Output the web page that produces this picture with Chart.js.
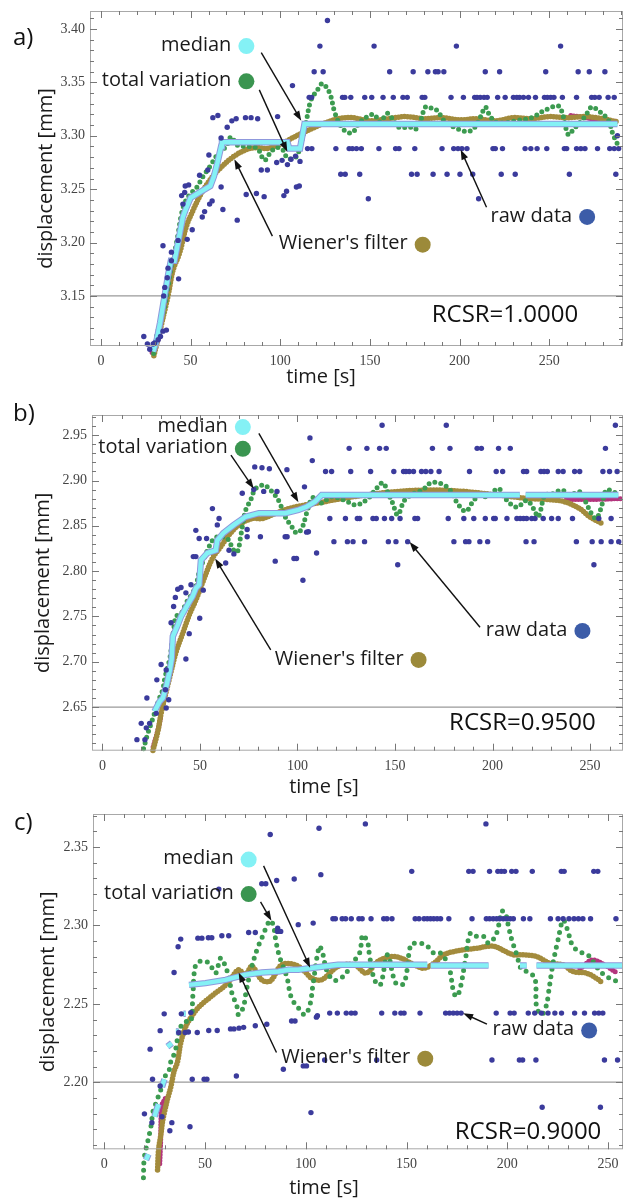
<!DOCTYPE html>
<html>
<head>
<meta charset="utf-8">
<script src="https://cdn.jsdelivr.net/npm/chart.js@4.4.1/dist/chart.umd.min.js"></script>
<style>
  body { margin: 0; background: #fff; }
  #wrap { position: relative; width: 627px; height: 1201px; }
  canvas { position: absolute; left: 0; }
</style>
</head>
<body>
<div id="wrap">
  <canvas id="chartA" width="627" height="395" style="top:0px"></canvas>
  <canvas id="chartB" width="627" height="405" style="top:395px"></canvas>
  <canvas id="chartC" width="627" height="401" style="top:800px"></canvas>
</div>
<script>
// ---------- panel a) RCSR = 1.0000 ----------
// raw data sits on quantised levels, so keep one list of times per level
const rawLevelsA = [3.408, 3.384, 3.360, 3.336, 3.288, 3.264, 3.241];
const rawRowsA = [
  [126.3],
  [122.1, 152.3, 198.2, 256.3],
  [118.9, 123.9, 161.0, 174.1, 182.3, 186.5, 188.0, 191.2, 214.3, 222.3, 248.0, 266.1, 272.3, 281.0],
  [116.1, 117.5, 134.7, 136.0, 139.3, 147.1, 151.0, 157.3, 163.0, 168.4, 170.8, 179.1, 180.6, 195.2, 202.1, 208.4, 209.7, 211.5, 213.6, 215.4, 221.2, 225.4, 230.0, 231.9, 233.4, 235.6, 238.4, 242.3, 247.3, 248.9, 250.8, 252.6, 257.3, 265.2, 273.6, 275.4, 277.8, 282.8, 286.2],
  [115.2, 117.6, 131.0, 138.4, 140.2, 142.5, 145.2, 155.0, 164.3, 166.2, 175.0, 190.2, 196.7, 199.1, 201.3, 204.1, 218.6, 219.9, 223.9, 236.5, 239.7, 243.2, 248.6, 258.4, 259.7, 265.2, 267.6, 269.9, 276.9, 283.7, 286.2, 288.7],
  [133.7, 136.2, 144.3, 173.2, 176.3, 185.2, 193.0, 200.2, 207.3, 223.2, 231.0, 261.2, 287.1],
  [149.1, 210.6]
];
const rawLooseA = [
  [23.9, 3.112], [25.9, 3.105], [27.2, 3.100], [29.1, 3.105], [30.0, 3.106], [31.9, 3.109], [33.2, 3.112], [34.6, 3.117],
  [36.5, 3.118], [35.0, 3.150], [35.6, 3.158], [37.0, 3.167], [37.4, 3.176], [39.3, 3.183], [39.3, 3.191], [34.6, 3.197],
  [43.3, 3.166], [43.0, 3.202], [48.1, 3.203], [50.9, 3.212], [45.7, 3.236], [45.0, 3.244], [46.7, 3.247], [47.0, 3.253],
  [48.9, 3.254], [56.5, 3.224], [57.8, 3.229], [60.6, 3.236], [62.0, 3.239], [55.0, 3.263], [59.6, 3.268], [60.2, 3.282],
  [62.4, 3.317], [65.2, 3.319], [67.0, 3.298], [70.4, 3.308], [73.0, 3.314], [75.4, 3.316], [80.6, 3.317], [83.7, 3.317],
  [87.4, 3.316], [98.5, 3.318], [106.8, 3.347], [67.0, 3.252], [68.0, 3.231], [76.0, 3.221], [81.0, 3.245], [86.7, 3.246],
  [91.0, 3.243], [102.0, 3.244], [103.5, 3.248], [109.0, 3.252], [110.6, 3.253], [89.4, 3.268], [92.8, 3.268], [98.0, 3.275],
  [101.0, 3.277], [104.0, 3.273], [106.0, 3.278], [108.5, 3.281], [111.0, 3.276], [288.0, 3.300]
];
const wienerA = [
  [29.5, 3.094], [33.0, 3.118], [37.4, 3.150], [40.2, 3.174], [44.0, 3.191], [47.6, 3.215], [51.3, 3.230], [55.9, 3.246],
  [61.0, 3.259], [66.1, 3.269], [73.5, 3.280], [81.0, 3.287], [87.0, 3.289], [92.0, 3.288], [97.0, 3.290], [101.3, 3.293],
  [106.8, 3.298], [111.5, 3.302], [118.0, 3.307], [125.0, 3.312], [132.0, 3.316], [140.0, 3.317], [150.0, 3.314], [160.0, 3.316],
  [170.0, 3.318], [180.0, 3.316], [190.0, 3.317], [200.0, 3.315], [210.0, 3.316], [220.0, 3.314], [230.0, 3.317], [240.0, 3.316],
  [250.0, 3.318], [260.0, 3.317], [270.0, 3.318], [280.0, 3.316], [288.0, 3.313]
];
const tvA = [
  [29.4, 3.096], [31.0, 3.112], [32.8, 3.123], [34.3, 3.132], [35.6, 3.141], [37.4, 3.158], [39.3, 3.178], [41.1, 3.191],
  [43.0, 3.208], [44.8, 3.226], [46.7, 3.237], [50.0, 3.246], [53.1, 3.251], [57.0, 3.262], [61.0, 3.272], [65.2, 3.283],
  [69.8, 3.290], [72.6, 3.299], [76.3, 3.291], [82.8, 3.290], [87.4, 3.288], [91.1, 3.277], [94.8, 3.285], [98.0, 3.289],
  [101.3, 3.287], [104.1, 3.279], [108.7, 3.280], [111.5, 3.293], [114.3, 3.312], [117.0, 3.333], [120.7, 3.343], [123.5, 3.349],
  [126.3, 3.344], [128.2, 3.337], [130.0, 3.324], [132.8, 3.312], [136.5, 3.304], [140.2, 3.303], [144.0, 3.312], [149.5, 3.319],
  [152.5, 3.320], [155.5, 3.313], [159.7, 3.321], [162.5, 3.316], [166.2, 3.308], [172.6, 3.308], [175.4, 3.306], [178.0, 3.313],
  [181.0, 3.327], [184.0, 3.326], [186.5, 3.325], [189.0, 3.320], [192.0, 3.313], [199.5, 3.306], [205.0, 3.304], [208.5, 3.308],
  [212.0, 3.319], [214.3, 3.327], [216.5, 3.320], [219.9, 3.313], [225.0, 3.312], [231.0, 3.314], [240.2, 3.317], [247.6, 3.324],
  [255.0, 3.328], [257.5, 3.320], [260.6, 3.301], [263.5, 3.306], [269.9, 3.318], [273.6, 3.327], [277.0, 3.324], [282.8, 3.315],
  [285.6, 3.301], [288.4, 3.291]
];
const medianA = [
  [29.1, 3.098], [31.0, 3.108], [33.0, 3.125], [35.5, 3.150], [37.5, 3.170], [39.0, 3.183], [41.0, 3.183], [43.0, 3.200],
  [45.7, 3.224], [47.0, 3.230], [50.0, 3.242], [55.0, 3.247], [61.0, 3.253], [63.0, 3.262], [65.0, 3.275], [67.0, 3.290],
  [67.5, 3.294], [104.0, 3.294], [105.0, 3.288], [111.0, 3.288], [113.5, 3.311], [288.0, 3.311]
];
const magentaA = [[28.5, 3.097], [31.0, 3.105], [33.0, 3.115], null, [262.0, 3.319], [270.0, 3.317], [276.0, 3.315], [282.0, 3.313], [288.0, 3.314]];

// ---------- panel b) RCSR = 0.9500 ----------
const rawLevelsB = [2.961, 2.9355, 2.910, 2.858, 2.8325, 2.807];
const rawRowsB = [
  [143.4, 176.3, 263.0],
  [126.5, 135.6, 142.1, 145.5, 169.2, 178.2, 192.1, 194.3, 203.1, 209.1, 257.9],
  [114.4, 117.5, 127.3, 137.5, 149.4, 154.4, 155.6, 157.3, 159.5, 163.6, 165.8, 168.4, 172.6, 188.2, 201.9, 205.2, 215.9, 217.5, 224.8, 226.4, 228.1, 233.7, 236.2, 242.1, 244.7, 256.6, 260.0, 263.9],
  [116.6, 124.6, 130.7, 131.9, 138.7, 140.4, 144.6, 148.3, 152.6, 160.2, 161.6, 177.3, 185.3, 190.4, 196.3, 200.6, 201.4, 207.4, 212.5, 214.2, 215.9, 217.5, 220.1, 221.8, 226.0, 230.3, 233.7, 241.0, 254.5, 260.8],
  [118.7, 125.6, 128.5, 134.4, 146.6, 150.5, 156.5, 180.2, 186.2, 187.9, 193.5, 197.5, 217.2, 221.3, 243.0, 251.1, 255.7, 260.8, 264.7],
  [151.4, 252.0]
];
const rawLooseB = [
  [17.7, 2.614], [21.8, 2.614], [19.9, 2.632], [24.2, 2.632], [22.5, 2.627], [27.6, 2.643], [22.8, 2.660], [32.7, 2.649],
  [34.0, 2.658], [27.9, 2.680], [32.3, 2.669], [30.1, 2.697], [32.7, 2.691], [42.8, 2.703], [35.2, 2.743], [44.5, 2.731],
  [49.9, 2.748], [36.5, 2.761], [37.4, 2.771], [42.8, 2.776], [38.6, 2.780], [40.3, 2.782], [45.4, 2.785], [51.7, 2.779],
  [46.6, 2.816], [47.9, 2.816], [47.9, 2.845], [49.6, 2.836], [53.4, 2.836], [58.9, 2.851], [59.8, 2.858], [56.4, 2.869],
  [63.2, 2.809], [64.9, 2.823], [67.4, 2.819], [74.2, 2.838], [74.2, 2.846], [81.0, 2.838], [71.7, 2.886], [77.6, 2.890],
  [82.7, 2.888], [89.5, 2.888], [78.1, 2.915], [81.8, 2.914], [85.6, 2.913], [94.6, 2.912], [93.7, 2.838], [94.7, 2.838],
  [88.6, 2.811], [98.2, 2.814], [99.5, 2.814], [102.8, 2.790], [104.7, 2.843], [105.6, 2.8435], [103.6, 2.893], [106.4, 2.947],
  [107.6, 2.922], [109.8, 2.820]
];
const wienerB = [
  [25.9, 2.602], [28.4, 2.623], [30.1, 2.643], [32.7, 2.667], [35.2, 2.689], [37.8, 2.711], [41.1, 2.731], [44.5, 2.7515],
  [47.9, 2.768], [51.3, 2.787], [56.4, 2.814], [60.7, 2.827], [64.9, 2.840], [70.0, 2.851], [76.7, 2.858], [81.8, 2.858],
  [86.9, 2.862], [95.4, 2.869], [103.9, 2.873], [110.0, 2.875], [120.0, 2.879], [135.0, 2.884], [151.4, 2.888], [168.4, 2.8895],
  [185.3, 2.888], [202.3, 2.884], [219.2, 2.880], [228.0, 2.879], [236.2, 2.877], [244.7, 2.869], [249.8, 2.860], [255.7, 2.853]
];
const tvB = [
  [21.1, 2.604], [23.0, 2.619], [25.0, 2.632], [27.0, 2.645], [28.9, 2.658], [30.9, 2.669], [32.1, 2.683], [34.4, 2.702],
  [35.2, 2.713], [36.5, 2.735], [37.8, 2.750], [40.3, 2.753], [43.0, 2.765], [46.2, 2.776], [47.9, 2.783], [49.6, 2.799],
  [52.0, 2.813], [54.7, 2.827], [57.3, 2.836], [60.7, 2.838], [64.9, 2.834], [66.6, 2.825], [69.1, 2.821], [71.0, 2.840],
  [73.4, 2.867], [75.9, 2.878], [78.5, 2.891], [82.7, 2.895], [86.1, 2.8895], [90.3, 2.878], [93.7, 2.860], [97.1, 2.849],
  [99.6, 2.842], [102.2, 2.847], [104.7, 2.864], [107.3, 2.880], [109.8, 2.882], [112.0, 2.875], [117.5, 2.882], [124.3, 2.878],
  [130.2, 2.873], [136.1, 2.880], [140.4, 2.891], [143.8, 2.8975], [146.3, 2.887], [148.8, 2.875], [151.4, 2.862], [154.8, 2.878],
  [159.0, 2.885], [164.1, 2.8895], [168.4, 2.8975], [173.4, 2.8966], [177.7, 2.891], [181.1, 2.878], [186.2, 2.866], [190.4, 2.878],
  [193.8, 2.884], [197.2, 2.882], [203.1, 2.891], [207.4, 2.878], [212.5, 2.8705], [217.5, 2.878], [221.0, 2.869], [223.5, 2.860],
  [226.9, 2.885], [229.4, 2.884], [235.4, 2.8895], [239.6, 2.884], [244.7, 2.8876], [248.1, 2.875], [250.6, 2.864], [253.2, 2.858],
  [255.7, 2.870], [258.3, 2.8895], [261.7, 2.8876], [265.0, 2.884]
];
const medianB = [
  [26.7, 2.645], [29.3, 2.656], [31.0, 2.660], [33.0, 2.675], [34.5, 2.690], [35.5, 2.703], [36.1, 2.728], [38.6, 2.7405],
  [40.3, 2.750], [43.7, 2.763], [46.2, 2.772], [47.9, 2.781], [49.6, 2.785], [50.5, 2.812], [53.8, 2.820], [58.1, 2.823],
  [58.9, 2.834], [62.0, 2.842], [67.4, 2.851], [73.4, 2.860], [80.2, 2.864], [93.7, 2.864], [100.5, 2.8675], [104.7, 2.871],
  [109.0, 2.8766], [112.4, 2.884], [214.0, 2.884], null, [217.0, 2.884], [264.5, 2.884]
];
const magentaB = [[26.0, 2.606], [28.5, 2.625], [30.0, 2.640], null, [237.9, 2.879], [250.0, 2.879], [265.9, 2.880]];

// ---------- panel c) RCSR = 0.9000 ----------
const rawLevelsC = [2.3648, 2.3345, 2.3043, 2.2441, 2.2142, 2.184];
const rawRowsC = [
  [129.6, 189.4],
  [152.6, 180.9, 183.0, 191.2, 195.3, 197.0, 198.6, 202.2, 204.3, 212.4, 226.8, 228.2, 242.9, 244.9],
  [113.5, 114.7, 118.1, 119.8, 122.6, 126.4, 128.0, 132.4, 138.7, 140.3, 142.8, 154.3, 156.2, 158.7, 160.3, 161.9, 163.5, 165.2, 166.9, 171.0, 182.5, 189.6, 191.2, 193.0, 194.7, 196.2, 198.0, 199.6, 201.4, 203.0, 208.0, 211.2, 221.4, 225.2, 227.7, 230.6, 233.1, 235.3, 237.5, 241.3, 253.9],
  [111.9, 115.7, 120.1, 122.6, 124.5, 137.7, 144.2, 147.2, 148.8, 156.7, 169.4, 171.3, 173.2, 175.1, 177.1, 194.5, 201.4, 203.4, 210.4, 213.6, 216.9, 220.2, 223.6, 226.9, 233.4, 238.3, 243.3, 245.4, 247.4],
  [109.4, 135.2, 192.4, 206.0, 207.6, 214.2, 248.2, 254.7],
  [217.3, 246.2]
];
const rawLooseC = [
  [106.6, 2.362], [107.5, 2.3324], [96.3, 2.3005], [103.7, 2.3015], [82.4, 2.358], [94.3, 2.3296], [85.6, 2.3287], [78.2, 2.3266],
  [80.2, 2.3266], [56.9, 2.3232], [38.0, 2.2913], [46.5, 2.2919], [48.5, 2.2919], [51.7, 2.2922], [53.4, 2.2922], [58.4, 2.2934],
  [61.8, 2.2934], [71.7, 2.2955], [75.0, 2.2955], [86.1, 2.2983], [36.7, 2.2864], [34.7, 2.270], [86.0, 2.2962], [87.6, 2.2962],
  [29.8, 2.2436], [27.8, 2.2329], [22.8, 2.2211], [24.0, 2.2019], [43.7, 2.2019], [49.6, 2.2019], [51.0, 2.2019], [65.6, 2.204],
  [88.9, 2.2083], [98.8, 2.2104], [100.4, 2.2104], [102.6, 2.1806], [42.6, 2.1716], [33.6, 2.1742], [32.6, 2.169], [28.7, 2.178],
  [27.8, 2.1976], [20.0, 2.1798], [23.7, 2.1742], [17.8, 2.1478], [19.3, 2.1333], [20.1, 2.1333], [38.3, 2.2436], [43.0, 2.2444],
  [37.0, 2.2317], [40.2, 2.2317], [41.8, 2.232], [46.2, 2.2317], [51.9, 2.233], [56.1, 2.233], [62.7, 2.234], [64.4, 2.234],
  [66.9, 2.2345], [69.2, 2.235], [75.0, 2.236], [80.7, 2.237], [93.0, 2.239], [94.7, 2.239], [105.3, 2.2415], [105.8, 2.2424]
];
const wienerC = [
  [26.5, 2.144], [27.0, 2.157], [28.2, 2.167], [29.0, 2.175], [30.3, 2.183], [31.4, 2.189], [33.1, 2.197], [34.7, 2.207],
  [36.4, 2.213], [38.0, 2.225], [40.5, 2.2355], [43.4, 2.242], [47.0, 2.248], [51.1, 2.2526], [55.3, 2.257], [58.5, 2.260],
  [61.8, 2.264], [66.7, 2.2717], [70.0, 2.2685], [73.3, 2.2738], [78.2, 2.2653], [82.4, 2.2645], [88.1, 2.2749], [94.7, 2.2749],
  [99.6, 2.2706], [102.9, 2.2664], [107.8, 2.2653], [116.0, 2.2738], [124.2, 2.2749], [130.0, 2.2696], [135.7, 2.277], [142.3, 2.2802],
  [147.2, 2.2792], [153.8, 2.2749], [158.7, 2.2727], [163.6, 2.2759], [168.5, 2.2813], [173.5, 2.2834], [178.4, 2.2845], [185.0, 2.2855],
  [189.9, 2.2866], [194.0, 2.2866], [198.1, 2.284], [203.0, 2.2813], [208.0, 2.2813], [214.5, 2.2802], [221.1, 2.2759], [227.7, 2.2749],
  [232.6, 2.2706], [239.2, 2.2696], [244.1, 2.2664], [247.4, 2.2632]
];
const tvC = [
  [19.5, 2.139], [19.9, 2.1515], [21.6, 2.162], [23.2, 2.1716], [24.4, 2.1823], [25.7, 2.1866], [27.0, 2.1913], [29.0, 2.1983],
  [30.6, 2.2047], [32.3, 2.2079], [33.1, 2.2132], [35.2, 2.2195], [36.9, 2.2313], [38.5, 2.2366], [40.5, 2.2387], [43.0, 2.2387],
  [44.0, 2.255], [45.4, 2.2749], [48.5, 2.2775], [52.0, 2.276], [55.3, 2.2696], [57.7, 2.2792], [59.5, 2.276], [61.8, 2.2674],
  [63.4, 2.2568], [65.9, 2.2483], [66.7, 2.243], [69.2, 2.2483], [70.0, 2.2547], [72.5, 2.270], [75.8, 2.2845], [78.2, 2.2919],
  [79.9, 2.2972], [82.4, 2.3032], [84.0, 2.2998], [85.1, 2.2909], [86.5, 2.2824], [88.1, 2.276], [90.6, 2.2674], [93.0, 2.2536],
  [97.1, 2.2462], [99.6, 2.243], [102.1, 2.2494], [103.7, 2.2632], [106.8, 2.2866], [108.6, 2.2813], [110.3, 2.2717], [114.0, 2.265],
  [119.0, 2.268], [123.0, 2.276], [126.7, 2.2823], [128.3, 2.294], [130.8, 2.2887], [131.6, 2.2813], [134.1, 2.2653], [137.0, 2.262],
  [140.6, 2.2813], [144.7, 2.2632], [148.8, 2.2632], [152.1, 2.2877], [154.6, 2.2887], [159.5, 2.2877], [163.6, 2.2823], [166.9, 2.2823],
  [171.0, 2.2738], [173.5, 2.2568], [175.1, 2.2547], [177.0, 2.262], [179.2, 2.2781], [181.7, 2.2951], [185.0, 2.293], [188.3, 2.293],
  [190.7, 2.2887], [194.0, 2.293], [195.6, 2.2994], [197.3, 2.309], [198.9, 2.3085], [200.6, 2.2994], [202.2, 2.2909], [204.7, 2.2813],
  [207.1, 2.2717], [210.0, 2.2705], [213.7, 2.2664], [214.5, 2.2483], [217.0, 2.243], [219.5, 2.2494], [220.3, 2.2558], [222.7, 2.276],
  [225.2, 2.2909], [227.7, 2.3034], [230.1, 2.2962], [231.8, 2.2887], [234.2, 2.2845], [237.5, 2.2823], [240.8, 2.2802], [244.1, 2.2738],
  [249.0, 2.2674], [253.1, 2.2653], [255.6, 2.2621]
];
const medianC = [
  [20.8, 2.1504], [22.0, 2.154], null, [25.0, 2.178], [25.7, 2.1812], [27.0, 2.186], null, [28.7, 2.197], [29.9, 2.2019], null,
  [31.4, 2.2227], [33.6, 2.2249], null, [35.6, 2.2323], [37.0, 2.2323], null, [39.3, 2.2436], [40.5, 2.2436], null,
  [42.1, 2.2621], [50.3, 2.2632], [60.2, 2.2653], [70.0, 2.2685], [78.2, 2.270], [86.5, 2.2706], [91.4, 2.2717], [96.3, 2.2717],
  [102.9, 2.2728], [116.0, 2.2749], [160.3, 2.2749], null, [162.0, 2.2745], [190.7, 2.2745], null, [206.3, 2.2745], [209.6, 2.2745],
  null, [214.5, 2.2745], [257.2, 2.2745]
];
const magentaC = [[27.6, 2.148], [28.0, 2.160], [28.6, 2.185], [30.5, 2.190], null, [236.0, 2.272], [242.0, 2.278], [248.0, 2.275], [254.0, 2.270]];

// colours
const C_RAW = '#3b3b9c', C_RAW_KEY = '#3c5ca8';
const C_WIENER = '#a38b3c', C_WIENER_KEY = '#9c8a3a';
const C_TV = '#3c9b50', C_TV_KEY = '#3a9550';
const C_MEDIAN = '#84f1f5', C_MEDIAN_EDGE = '#8f98dc';
const C_MAGENTA = '#b3357d';

const toXY = arr => arr.map(p => p ? { x: p[0], y: p[1] } : { x: null, y: null });

function rawPoints(levels, rows, loose) {
  const pts = [];
  rows.forEach((xs, i) => xs.forEach(x => pts.push({ x, y: levels[i] })));
  loose.forEach(p => pts.push({ x: p[0], y: p[1] }));
  return pts;
}

function buildDatasets(raw, wiener, tv, median, magenta, tvGap) {
  const dotted = (data, color, gap, order, width) => ({
    data: toXY(data), showLine: true, borderColor: color, borderWidth: width,
    borderDash: [0, gap], borderCapStyle: 'round', pointRadius: 0, tension: 0.35,
    spanGaps: false, clip: false, order
  });
  return [
    { data: raw, showLine: false, pointRadius: 2.7, pointBackgroundColor: C_RAW, pointBorderWidth: 0, clip: false, order: 1 },
    { data: toXY(median), showLine: true, borderColor: C_MEDIAN, borderWidth: 4.5, pointRadius: 0, spanGaps: false, clip: false, order: 2 },
    { data: toXY(median), showLine: true, borderColor: C_MEDIAN_EDGE, borderWidth: 6.5, pointRadius: 0, spanGaps: false, clip: false, order: 3 },
    dotted(tv, C_TV, tvGap, 4, 5),
    dotted(wiener, C_WIENER, 3, 5, 5.5),
    dotted(magenta, C_MAGENTA, 3, 6, 5)
  ];
}

// frame, inward ticks, reference line, axis titles, keys, arrows and text
function decoPlugin(cfg) {
  return {
    id: 'deco',
    beforeDatasetsDraw(chart) {
      const { ctx, chartArea: a, scales: { y } } = chart;
      const py = y.getPixelForValue(cfg.refLine);
      ctx.save();
      ctx.strokeStyle = '#9a9a9a';
      ctx.lineWidth = 1.3;
      ctx.beginPath(); ctx.moveTo(a.left, py); ctx.lineTo(a.right, py); ctx.stroke();
      ctx.restore();
    },
    afterDatasetsDraw(chart) {
      const { ctx, chartArea: a, scales: { x, y } } = chart;
      ctx.save();
      ctx.strokeStyle = '#a8a8a8';
      ctx.lineWidth = 1;
      ctx.strokeRect(a.left + 0.5, a.top + 0.5, a.right - a.left - 1, a.bottom - a.top - 1);
      ctx.strokeStyle = '#777';
      ctx.beginPath();
      for (let i = Math.ceil(x.min / 10); i * 10 <= x.max; i++) {
        const px = Math.round(x.getPixelForValue(i * 10)) + 0.5;
        const len = i % 5 === 0 ? 7 : 4;
        ctx.moveTo(px, a.bottom); ctx.lineTo(px, a.bottom - len);
        ctx.moveTo(px, a.top); ctx.lineTo(px, a.top + len);
      }
      for (let i = Math.ceil(y.min * 100 - 1e-6); i / 100 <= y.max; i++) {
        const py = Math.round(y.getPixelForValue(i / 100)) + 0.5;
        const len = i % 5 === 0 ? 7 : 4;
        ctx.moveTo(a.left, py); ctx.lineTo(a.left + len, py);
        ctx.moveTo(a.right, py); ctx.lineTo(a.right - len, py);
      }
      ctx.stroke();

      ctx.fillStyle = '#111';
      ctx.font = '24px "Open Sans"';
      ctx.textBaseline = 'middle';
      ctx.textAlign = 'left';
      ctx.fillText(cfg.letter, cfg.letterPos[0], cfg.letterPos[1]);

      ctx.textAlign = 'center';
      ctx.fillText(cfg.rcsr, x.getPixelForValue(cfg.rcsrAt[0]), y.getPixelForValue(cfg.rcsrAt[1]));

      ctx.font = '20px "Open Sans"';
      ctx.fillStyle = '#1a1a1a';
      ctx.fillText('time [s]', cfg.xTitlePos[0], cfg.xTitlePos[1]);
      ctx.save();
      ctx.translate(cfg.yTitleX, (a.top + a.bottom) / 2);
      ctx.rotate(-Math.PI / 2);
      ctx.fillText('displacement [mm]', 0, 0);
      ctx.restore();

      ctx.textAlign = 'right';
      cfg.keys.forEach(k => {
        const cx = x.getPixelForValue(k.at[0]), cy = y.getPixelForValue(k.at[1]);
        ctx.fillStyle = '#1a1a1a';
        ctx.fillText(k.text, cx - 15, cy - 1);
        ctx.fillStyle = k.color;
        ctx.beginPath(); ctx.arc(cx, cy, 8, 0, Math.PI * 2); ctx.fill();
      });

      ctx.strokeStyle = '#111';
      ctx.fillStyle = '#111';
      ctx.lineWidth = 1.4;
      cfg.arrows.forEach(([from, to]) => {
        const x1 = x.getPixelForValue(from[0]), y1 = y.getPixelForValue(from[1]);
        const x2 = x.getPixelForValue(to[0]), y2 = y.getPixelForValue(to[1]);
        const ang = Math.atan2(y2 - y1, x2 - x1);
        ctx.beginPath(); ctx.moveTo(x1, y1);
        ctx.lineTo(x2 - 6 * Math.cos(ang), y2 - 6 * Math.sin(ang)); ctx.stroke();
        ctx.beginPath();
        ctx.moveTo(x2, y2);
        ctx.lineTo(x2 - 10 * Math.cos(ang) + 3.5 * Math.sin(ang), y2 - 10 * Math.sin(ang) - 3.5 * Math.cos(ang));
        ctx.lineTo(x2 - 10 * Math.cos(ang) - 3.5 * Math.sin(ang), y2 - 10 * Math.sin(ang) + 3.5 * Math.cos(ang));
        ctx.closePath(); ctx.fill();
      });
      ctx.restore();
    }
  };
}

function makeChart(id, datasets, ax, deco) {
  const zeroPad = s => { s.paddingTop = 0; s.paddingBottom = 0; s.paddingLeft = 0; s.paddingRight = 0; };
  return new Chart(document.getElementById(id), {
    type: 'scatter',
    data: { datasets },
    options: {
      responsive: false,
      animation: false,
      events: [],
      layout: { padding: { top: ax.top, right: ax.right, left: 0, bottom: 0 } },
      plugins: { legend: { display: false }, tooltip: { enabled: false } },
      scales: {
        x: {
          type: 'linear', min: ax.xMin, max: ax.xMax,
          grid: { display: false, drawTicks: false },
          border: { display: false },
          ticks: {
            stepSize: 50, includeBounds: false, autoSkip: false, maxRotation: 0, padding: 7,
            color: '#444', font: { family: '"Liberation Serif"', size: 14 }
          },
          afterFit: s => { zeroPad(s); s.height = ax.xHeight; }
        },
        y: {
          type: 'linear', min: ax.yMin, max: ax.yMax,
          grid: { display: false, drawTicks: false },
          border: { display: false },
          ticks: {
            stepSize: 0.05, includeBounds: false, autoSkip: false, padding: 5,
            color: '#444', font: { family: '"Liberation Serif"', size: 14 },
            callback: v => v.toFixed(2)
          },
          afterFit: s => { zeroPad(s); s.width = ax.left; }
        }
      }
    },
    plugins: [decoPlugin(deco)]
  });
}

makeChart('chartA',
  buildDatasets(rawPoints(rawLevelsA, rawRowsA, rawLooseA), wienerA, tvA, medianA, magentaA, 6),
  { xMin: -6.1, xMax: 291.1, yMin: 3.1031, yMax: 3.4169, left: 90, top: 11, right: 2, xHeight: 49 },
  {
    refLine: 3.15, letter: 'a)', letterPos: [13, 38], rcsr: 'RCSR=1.0000', rcsrAt: [225.3, 3.132],
    xTitlePos: [321, 377], yTitleX: 46,
    keys: [
      { text: 'median', at: [81.1, 3.384], color: C_MEDIAN },
      { text: 'total variation', at: [81.1, 3.351], color: C_TV_KEY },
      { text: "Wiener's filter", at: [179.4, 3.198], color: C_WIENER_KEY },
      { text: 'raw data', at: [271.1, 3.224], color: C_RAW_KEY }
    ],
    arrows: [
      [[89.4, 3.378], [111.7, 3.314]],
      [[88.3, 3.343], [103.9, 3.285]],
      [[95.6, 3.206], [74.4, 3.278]],
      [[215.0, 3.233], [200.6, 3.287]]
    ]
  });

makeChart('chartB',
  buildDatasets(rawPoints(rawLevelsB, rawRowsB, rawLooseB), wienerB, tvB, medianB, magentaB, 6),
  { xMin: -5.34, xMax: 266.9, yMin: 2.6018, yMax: 2.9723, left: 92, top: 20, right: 0, xHeight: 49.3 },
  {
    refLine: 2.65, letter: 'b)', letterPos: [13, 19], rcsr: 'RCSR=0.9500', rcsrAt: [215.3, 2.632],
    xTitlePos: [324, 392], yTitleX: 43,
    keys: [
      { text: 'median', at: [72.0, 2.959], color: C_MEDIAN },
      { text: 'total variation', at: [72.0, 2.935], color: C_TV_KEY },
      { text: "Wiener's filter", at: [162.1, 2.702], color: C_WIENER_KEY },
      { text: 'raw data', at: [246.1, 2.734], color: C_RAW_KEY }
    ],
    arrows: [
      [[80.2, 2.952], [100.5, 2.876]],
      [[65.9, 2.928], [77.6, 2.891]],
      [[86.3, 2.713], [57.8, 2.814]],
      [[193.6, 2.738], [157.5, 2.832]]
    ]
  });

makeChart('chartC',
  buildDatasets(rawPoints(rawLevelsC, rawRowsC, rawLooseC), wienerC, tvC, medianC, magentaC, 7.5),
  { xMin: -5.52, xMax: 257.4, yMin: 2.1572, yMax: 2.3711, left: 93, top: 14, right: 0, xHeight: 51.7 },
  {
    refLine: 2.20, letter: 'c)', letterPos: [14, 23], rcsr: 'RCSR=0.9000', rcsrAt: [210.3, 2.168],
    xTitlePos: [324, 388], yTitleX: 48,
    keys: [
      { text: 'median', at: [71.7, 2.342], color: C_MEDIAN },
      { text: 'total variation', at: [71.7, 2.320], color: C_TV_KEY },
      { text: "Wiener's filter", at: [159.3, 2.215], color: C_WIENER_KEY },
      { text: 'raw data', at: [240.6, 2.233], color: C_RAW_KEY }
    ],
    arrows: [
      [[79.1, 2.338], [102.2, 2.273]],
      [[77.6, 2.315], [83.0, 2.303]],
      [[85.5, 2.219], [66.7, 2.270]],
      [[189.9, 2.237], [178.1, 2.244]]
    ]
  });
</script>
</body>
</html>
